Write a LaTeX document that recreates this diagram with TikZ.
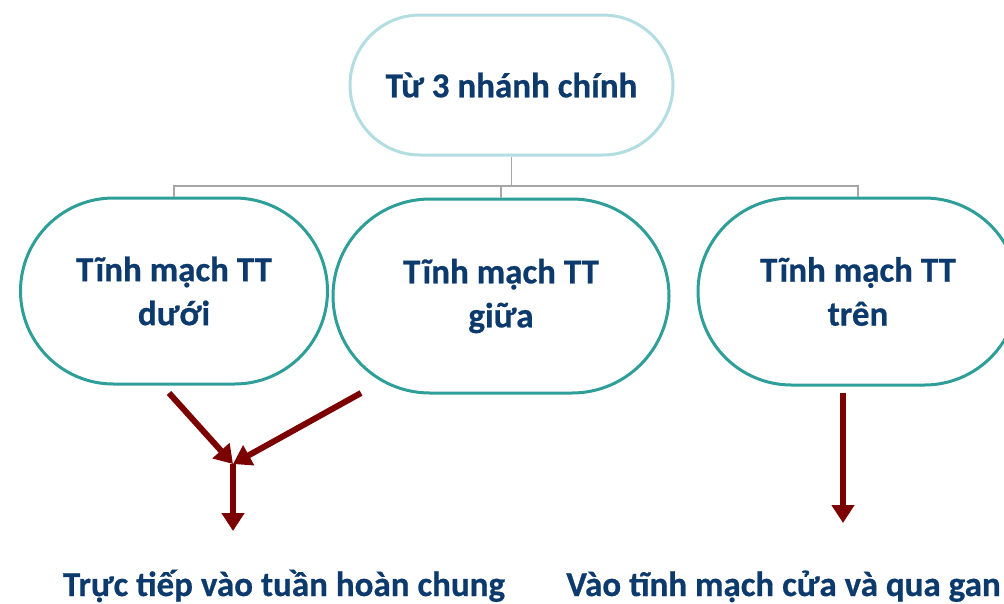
\documentclass[tikz,border=0pt]{standalone}
\usepackage{fontspec}
\setmainfont{Carlito}[BoldFeatures={FakeBold=0.6}]
\usetikzlibrary{shapes.misc,arrows.meta}
\definecolor{navy}{HTML}{0D3A6C}
\definecolor{tealline}{HTML}{2E9E98}
\definecolor{palecyan}{HTML}{B2DDE1}
\definecolor{darkred}{HTML}{7D0000}
\definecolor{busgray}{HTML}{A6A6A6}
\tikzset{
  pill/.style={rounded rectangle, draw=tealline, line width=3pt, fill=white,
    text=navy, align=center, inner sep=0pt,
    font=\bfseries\fontsize{35}{44}\selectfont},
  rootpill/.style={pill, draw=palecyan},
  bus/.style={draw=busgray, line width=1.5pt},
  flow/.style={draw=darkred, line width=6pt,
    -{Triangle[length=18pt,width=22pt]}},
  result/.style={text=navy, anchor=base, inner sep=0pt,
    font=\bfseries\fontsize{35}{44}\selectfont},
}
\begin{document}
\begin{tikzpicture}[x=1pt,y=-1pt]
\useasboundingbox (0,0) rectangle (1004,603);
\clip (0,0) rectangle (1004,603);

% branching tree of the three veins
\node[rootpill, minimum width=323pt, minimum height=140pt] (root) at (511.5,85) {Từ 3 nhánh chính};
\node[pill, minimum width=307pt, minimum height=186pt] (low) at (174,291) {Tĩnh mạch TT\\dưới};
\node[pill, minimum width=336pt, minimum height=194pt] (mid) at (501,296) {Tĩnh mạch TT\\giữa};
\node[pill, minimum width=320pt, minimum height=187pt] (up) at (858,291.5) {Tĩnh mạch TT\\trên};

\coordinate (busc) at (511.5,186);
\draw[bus] (root.south) -- (busc);
\draw[bus] (busc) -| (low.north);
\draw[bus] (busc) -| (up.north);
\draw[bus] (mid.north |- busc) -- (mid.north);

% drainage arrows
\coordinate (s1) at (169,393);
\coordinate (s2) at (361,393);
\coordinate (join) at (233,464);
\coordinate (end1) at (233,531);
\coordinate (s3) at (843,393);
\coordinate (end2) at (843,523);
\draw[flow] (s1) -- (join);
\draw[flow] (s2) -- (join);
\draw[flow] (join) -- (end1);
\draw[flow] (s3) -- (end2);

% outcomes
\node[result] (out1) at (284,596) {Trực tiếp vào tuần hoàn chung};
\node[result] (out2) at (783.5,596) {Vào tĩnh mạch cửa và qua gan};
\end{tikzpicture}
\end{document}
